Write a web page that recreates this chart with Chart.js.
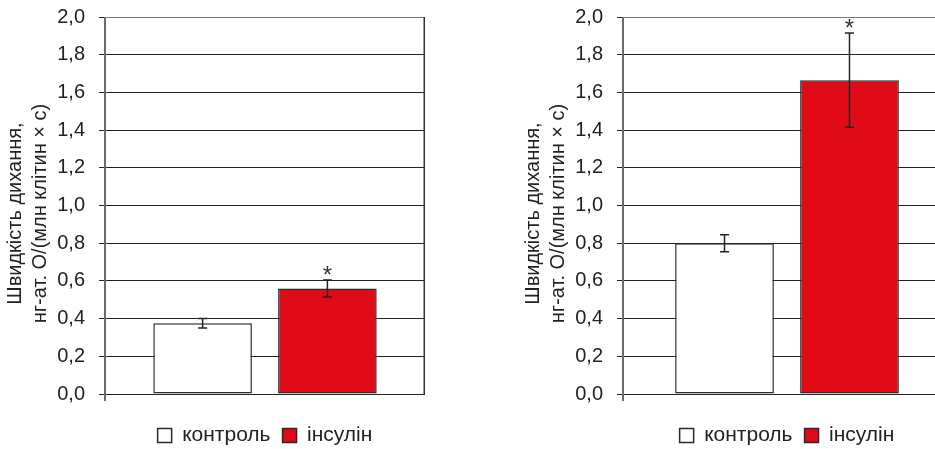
<!DOCTYPE html>
<html>
<head>
<meta charset="utf-8">
<script src="https://cdn.jsdelivr.net/npm/chart.js@4"></script>
<style>
  html, body { margin: 0; padding: 0; background: #fff; overflow: hidden; width: 935px; height: 449px; }
  canvas { position: absolute; top: 0; }
  #leftChart { left: 0; }
  #rightChart { left: 518px; }
</style>
</head>
<body>
<canvas id="leftChart" width="425" height="456"></canvas>
<canvas id="rightChart" width="433" height="456"></canvas>
<script>
// дані
const groups = ['контроль', 'інсулін'];
const groupColors = ['#ffffff', '#e10a17'];
const leftValues = [0.375, 0.56];
const leftErrors = [0.025, 0.045];
const rightValues = [0.80, 1.665];
const rightErrors = [0.045, 0.25];
const significant = [false, true];
const yTickLabels = ['0,0', '0,2', '0,4', '0,6', '0,8', '1,0', '1,2', '1,4', '1,6', '1,8', '2,0'];
const axisTitle = ['Швидкість дихання,', 'нг-ат. О/(млн клітин × с)'];

Chart.defaults.font.family = "'Liberation Sans', Arial, sans-serif";
Chart.defaults.font.size = 20;
Chart.defaults.color = '#222';

// планки похибок і зірочки
const errorBars = {
  id: 'errorBars',
  afterDatasetsDraw(chart, args, opts) {
    const ctx = chart.ctx;
    const y = chart.scales.y;
    ctx.save();
    ctx.strokeStyle = '#222';
    ctx.fillStyle = '#333';
    ctx.lineWidth = 1.5;
    ctx.font = "24px 'Liberation Sans', Arial, sans-serif";
    ctx.textAlign = 'center';
    ctx.textBaseline = 'alphabetic';
    chart.data.datasets.forEach((ds, i) => {
      const bar = chart.getDatasetMeta(i).data[0];
      const v = ds.data[0];
      const e = opts.errors[i];
      const top = y.getPixelForValue(v + e);
      const bottom = y.getPixelForValue(v - e);
      ctx.beginPath();
      ctx.moveTo(bar.x, top); ctx.lineTo(bar.x, bottom);
      ctx.moveTo(bar.x - 4.5, top); ctx.lineTo(bar.x + 4.5, top);
      ctx.moveTo(bar.x - 4.5, bottom); ctx.lineTo(bar.x + 4.5, bottom);
      ctx.stroke();
      if (significant[i]) ctx.fillText('*', bar.x, top + 3);
    });
    ctx.restore();
  }
};

// вісь Y (трохи нижче нуля), права рамка; назва осі трохи нижче центру
const frame = {
  id: 'frame',
  afterLayout(chart) {
    chart.scales.y.bottom += 16;
  },
  afterDraw(chart, args, opts) {
    const a = chart.chartArea;
    const ctx = chart.ctx;
    ctx.save();
    ctx.strokeStyle = '#6b6b6b';
    ctx.lineWidth = 2;
    ctx.beginPath();
    ctx.moveTo(a.left, a.top);
    ctx.lineTo(a.left, a.bottom + 7);
    ctx.stroke();
    if (opts.right) {
      ctx.strokeStyle = '#333';
      ctx.lineWidth = 1.5;
      ctx.beginPath();
      ctx.moveTo(a.right - 0.75, a.top);
      ctx.lineTo(a.right - 0.75, a.bottom);
      ctx.stroke();
    }
    ctx.restore();
  }
};

function makeChart(id, values, errors, catPct, rightBorder) {
  const datasets = groups.map((g, i) => ({
    label: g,
    data: [values[i]],
    backgroundColor: groupColors[i],
    borderColor: '#2a2a2a',
    borderWidth: 1.5,
    borderSkipped: false,
    categoryPercentage: catPct,
    barPercentage: 0.79
  }));
  return new Chart(document.getElementById(id), {
    type: 'bar',
    data: { labels: [''], datasets: datasets },
    plugins: [errorBars, frame],
    options: {
      responsive: false,
      animation: false,
      layout: { padding: { top: 17, right: 0, bottom: 0, left: 0 } },
      scales: {
        x: {
          ticks: { display: false },
          grid: { display: false },
          border: { display: false },
          afterFit: s => { s.height = 19; }
        },
        y: {
          min: 0,
          max: 2,
          ticks: {
            stepSize: 0.2,
            padding: 14,
            font: { size: 20 },
            callback: (v, i) => yTickLabels[i]
          },
          grid: {
            color: c => (c.tick && c.tick.value === 2) ? '#777' : '#222',
            tickColor: '#222',
            tickLength: 6,
            lineWidth: 1
          },
          border: { display: false },
          title: {
            display: true,
            text: axisTitle,
            font: { size: 20, lineHeight: 1.25 },
            padding: { top: 3, bottom: 0 }
          },
          afterFit: s => {
            s.width = 105;
            s.paddingTop = 0;
            s.paddingBottom = 0;
          }
        }
      },
      plugins: {
        legend: {
          position: 'bottom',
          fullSize: false,
          labels: {
            boxWidth: 14,
            boxHeight: 14,
            padding: 12,
            font: { size: 21 },
            color: '#222'
          }
        },
        tooltip: { enabled: false },
        errorBars: { errors: errors },
        frame: { right: rightBorder }
      }
    }
  });
}

makeChart('leftChart', leftValues, leftErrors, 0.78, true);
makeChart('rightChart', rightValues, rightErrors, 0.762, false);
</script>
</body>
</html>
